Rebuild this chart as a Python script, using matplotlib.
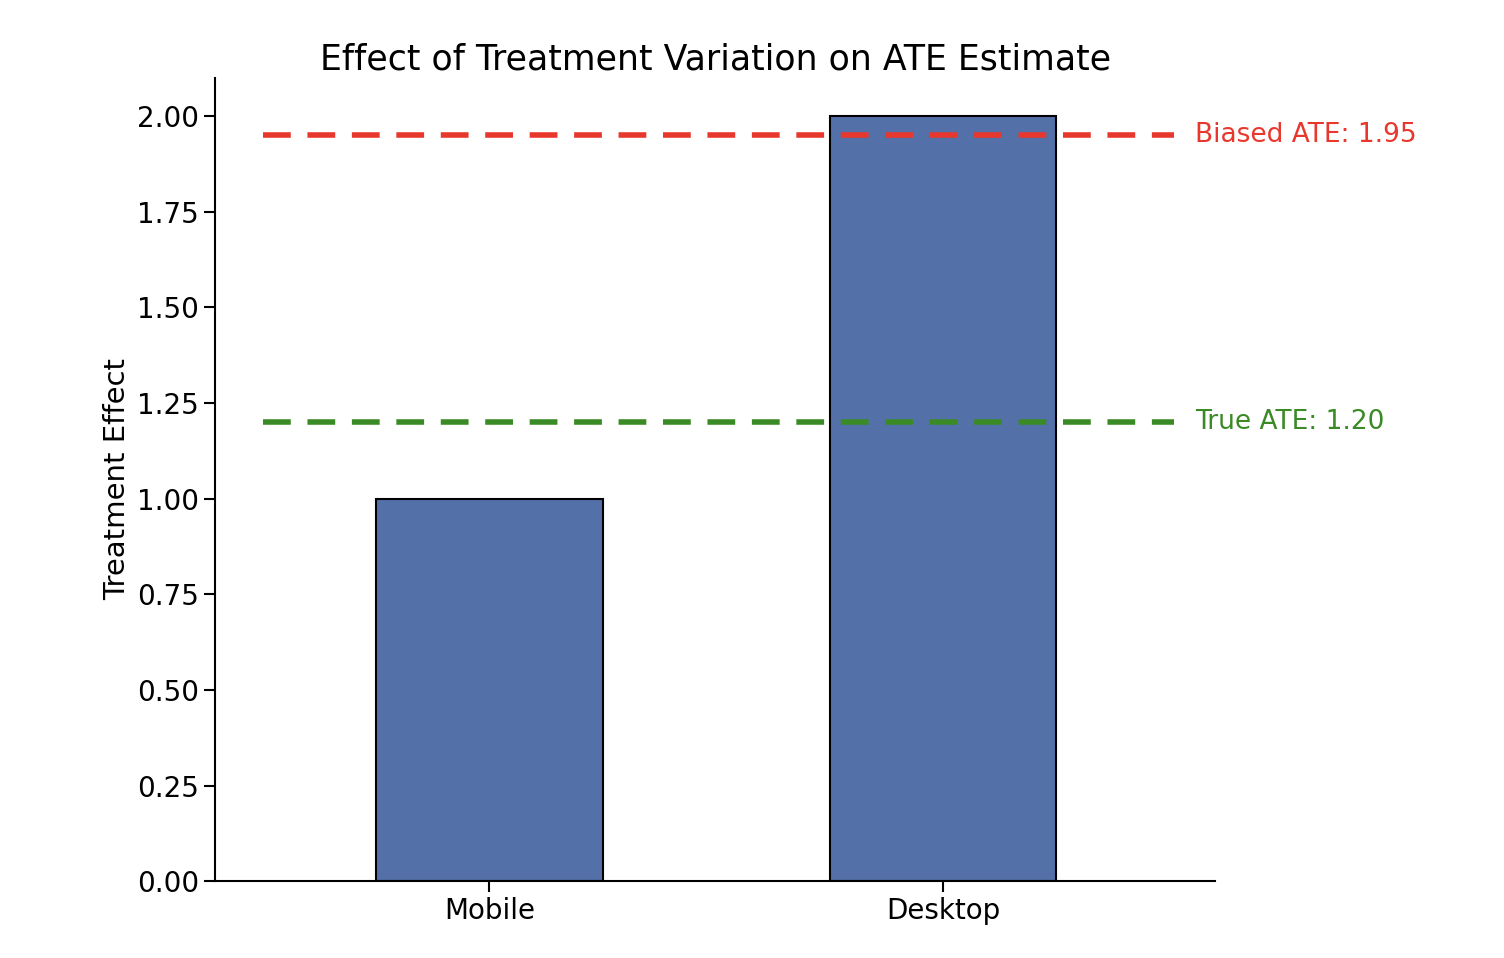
import matplotlib
matplotlib.use("Agg")
import matplotlib.pyplot as plt

groups = ["Mobile", "Desktop"]
effects = [1.0, 2.0]
true_ate = 1.20
biased_ate = 1.95

fig = plt.figure(figsize=(15.04, 9.58), dpi=100)
ax = fig.add_axes([0.143, 0.080, 0.665, 0.839])

x = list(range(len(groups)))
ax.bar(x, effects, width=0.5, color="#5470a8", edgecolor="black", linewidth=1.5)

ax.hlines(biased_ate, -0.5, 1.51, colors="#e8372c", linestyles=(0, (5, 3)), linewidth=4)
ax.hlines(true_ate, -0.5, 1.51, colors="#3a8a25", linestyles=(0, (5, 3)), linewidth=4)
ax.text(1.555, biased_ate, f"Biased ATE: {biased_ate:.2f}", color="#e8372c", fontsize=19, va="center")
ax.text(1.555, true_ate, f"True ATE: {true_ate:.2f}", color="#3a8a25", fontsize=19, va="center")

ax.set_xlim(-0.605, 1.6)
ax.set_ylim(0, 2.1)
ax.set_yticks([0, 0.25, 0.5, 0.75, 1.0, 1.25, 1.5, 1.75, 2.0])
ax.set_yticklabels([f"{v:.2f}" for v in ax.get_yticks()])
ax.set_xticks(x)
ax.set_xticklabels(groups)
ax.tick_params(labelsize=20, length=8, width=1.5)
ax.set_ylabel("Treatment Effect", fontsize=21)
ax.set_title("Effect of Treatment Variation on ATE Estimate", fontsize=25)
for s in ["top", "right"]:
    ax.spines[s].set_visible(False)
for s in ["left", "bottom"]:
    ax.spines[s].set_linewidth(1.5)

fig.savefig("out.png", dpi=100)
